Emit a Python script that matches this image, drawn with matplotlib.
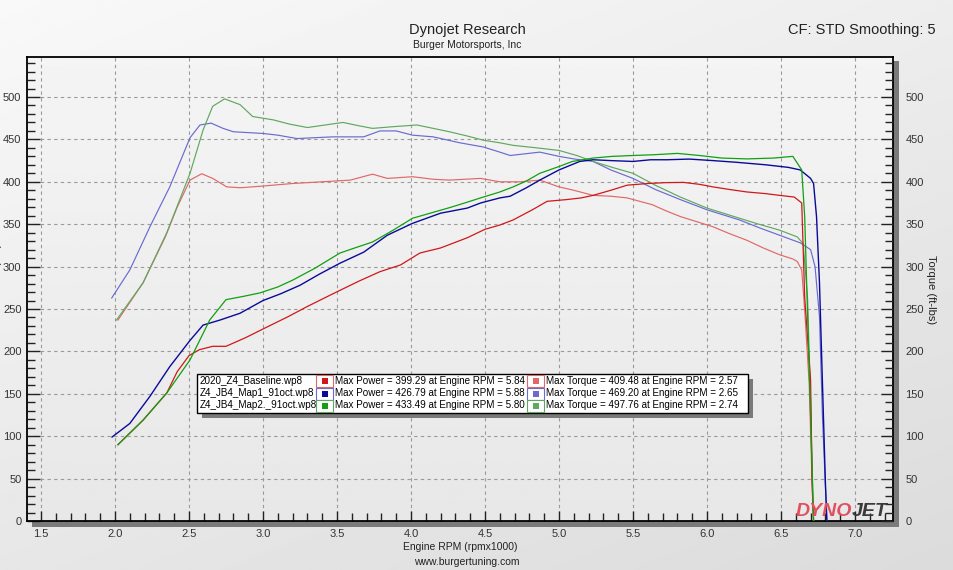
import numpy as np
import matplotlib
matplotlib.use('Agg')
import matplotlib.pyplot as plt
from matplotlib import font_manager
from matplotlib.patches import Rectangle
from matplotlib.ticker import MultipleLocator

# ---------------- data ----------------
base_pw_rpm = [2.02, 2.19, 2.35, 2.42, 2.50, 2.57, 2.66, 2.75, 2.88, 3.03, 3.17, 3.30, 3.45, 3.52, 3.65,
               3.79, 3.93, 4.06, 4.20, 4.38, 4.50, 4.60, 4.69, 4.82, 4.92, 5.05, 5.15, 5.23, 5.35, 5.46,
               5.60, 5.72, 5.84, 5.95, 6.04, 6.15, 6.27, 6.40, 6.49, 6.59, 6.64, 6.66, 6.70, 6.71, 6.72]
base_pw = [90, 119, 151, 176, 195, 202, 206, 206, 216, 229, 241, 253, 266, 272, 283,
           294, 302, 316, 322, 334, 344, 349, 355, 367, 377, 379, 381, 384, 390, 396,
           398, 399, 399.3, 397, 394, 391, 388, 386, 384, 382, 375, 264, 166, 45, 0]

base_tq_rpm = [2.02, 2.19, 2.34, 2.42, 2.507, 2.586, 2.66, 2.755, 2.85, 3.0, 3.2, 3.4, 3.59, 3.74, 3.84,
               4.01, 4.15, 4.26, 4.47, 4.60, 4.74, 4.87, 5.0, 5.1, 5.23, 5.35, 5.46, 5.63, 5.72, 5.82,
               5.93, 6.04, 6.15, 6.27, 6.38, 6.49, 6.58, 6.61, 6.64, 6.66, 6.69, 6.71, 6.72]
base_tq = [237, 281, 335, 370, 402, 409.5, 404, 394, 393, 395, 398, 400, 402, 409, 404,
           406, 403, 402, 404, 400, 400, 402, 394, 390, 384, 383, 381, 373, 366, 359,
           353, 347, 339, 331, 322, 314, 309, 306, 296, 249, 163, 45, 0]

map1_pw_rpm = [1.98, 2.10, 2.236, 2.37, 2.507, 2.595, 2.71, 2.845, 3.0, 3.12, 3.25, 3.38, 3.52, 3.68, 3.84,
               4.01, 4.20, 4.38, 4.47, 4.60, 4.67, 4.78, 4.87, 5.0, 5.14, 5.23, 5.35, 5.50, 5.62, 5.73,
               5.88, 6.04, 6.20, 6.40, 6.55, 6.63, 6.70, 6.72, 6.74, 6.76, 6.78, 6.80, 6.81]
map1_pw = [99, 115, 147, 182, 213, 231, 237, 245, 260, 268, 278, 291, 304, 317, 337,
           351, 363, 369, 375, 381, 383, 393, 402, 414, 424, 426, 425, 424, 426, 426,
           426.8, 425, 423, 420, 417, 414, 404, 398, 359, 281, 163, 45, 0]

map1_tq_rpm = [1.978, 2.10, 2.236, 2.37, 2.507, 2.574, 2.65, 2.73, 2.80, 2.90, 3.0, 3.1, 3.23, 3.35, 3.47,
               3.58, 3.68, 3.79, 3.9, 4.01, 4.15, 4.33, 4.49, 4.60, 4.67, 4.77, 4.87, 5.0, 5.1, 5.23,
               5.35, 5.50, 5.65, 5.82, 6.0, 6.22, 6.35, 6.49, 6.63, 6.70, 6.73, 6.76, 6.78, 6.81]
map1_tq = [263, 296, 347, 394, 452, 467, 469.2, 463, 459, 458, 457, 455, 451, 452, 453,
           453, 453, 460, 460, 455, 453, 446, 441, 435, 431, 433, 435, 430, 427, 424,
           414, 404, 391, 379, 367, 355, 346, 337, 328, 320, 300, 241, 123, 0]

map2_pw_rpm = [2.02, 2.19, 2.35, 2.507, 2.64, 2.75, 2.87, 2.98, 3.10, 3.20, 3.35, 3.52, 3.62, 3.74, 3.88,
               4.01, 4.15, 4.27, 4.38, 4.47, 4.60, 4.69, 4.78, 4.87, 5.0, 5.09, 5.23, 5.36, 5.50, 5.65,
               5.80, 5.95, 6.10, 6.27, 6.45, 6.58, 6.64, 6.66, 6.68, 6.70, 6.72]
map2_pw = [90, 119, 151, 190, 237, 261, 265, 269, 276, 284, 298, 316, 322, 329, 343,
           357, 364, 370, 376, 381, 388, 394, 401, 410, 418, 424, 428, 430, 431, 432,
           433.5, 431, 428, 427, 428, 430, 414, 359, 241, 123, 0]

map2_tq_rpm = [2.01, 2.19, 2.35, 2.507, 2.595, 2.66, 2.74, 2.845, 2.93, 3.07, 3.18, 3.30, 3.42, 3.54, 3.65,
               3.74, 3.88, 4.04, 4.15, 4.26, 4.38, 4.49, 4.60, 4.69, 4.85, 5.0, 5.12, 5.23, 5.36, 5.50,
               5.65, 5.82, 6.0, 6.22, 6.35, 6.49, 6.61, 6.65, 6.68, 6.70, 6.72]
map2_tq = [237, 281, 340, 410, 461, 489, 497.8, 491, 477, 473, 468, 464, 467, 470, 466,
           463, 465, 467, 463, 459, 454, 449, 446, 443, 440, 437, 431, 424, 417, 410,
           396, 382, 369, 357, 350, 343, 335, 327, 261, 140, 0]

run_names = ['2020_Z4_Baseline.wp8', 'Z4_JB4_Map1_91oct.wp8', 'Z4_JB4_Map2._91oct.wp8']
max_power = [399.29, 426.79, 433.49]
max_power_rpm = [5.84, 5.88, 5.80]
max_torque = [409.48, 469.20, 497.76]
max_torque_rpm = [2.57, 2.65, 2.74]

x_ticks = [1.5, 2.0, 2.5, 3.0, 3.5, 4.0, 4.5, 5.0, 5.5, 6.0, 6.5, 7.0]
y_ticks = [0, 50, 100, 150, 200, 250, 300, 350, 400, 450, 500]

power_colors = ['#d01818', '#0a0a9a', '#10a010']
torque_colors = ['#e06868', '#6a6ad0', '#5fa85f']

# ---------------- fonts ----------------
names = {f.name for f in font_manager.fontManager.ttflist}
NARROW = 'Liberation Sans Narrow' if 'Liberation Sans Narrow' in names else 'Liberation Sans'
plt.rcParams['font.family'] = [NARROW, 'DejaVu Sans']

W, H = 954, 570
fig = plt.figure(figsize=(9.54, 5.70), dpi=100)


def fx(x):
    return x / W


def fy(y):
    return 1 - y / H


# background gradient
bg = fig.add_axes([0, 0, 1, 1], zorder=-10)
gy = np.linspace(0, 1, 200)[:, None]
gx = np.linspace(0, 1, 300)[None, :]
img = 0.975 - 0.045 * gx - 0.07 * gy
bg.imshow(img, cmap='gray', vmin=0, vmax=1, extent=[0, 1, 0, 1], aspect='auto', origin='upper')
bg.set_axis_off()

L, R, T, B = 27, 893, 57, 521
# shadow of plot frame
fig.patches.append(Rectangle((fx(L + 5), fy(B + 6)), fx(R + 6) - fx(L + 5), fy(T + 4) - fy(B + 6),
                             transform=fig.transFigure, facecolor='#7a7a7a', edgecolor='none', zorder=-5))

ax = fig.add_axes([fx(L), fy(B), fx(R) - fx(L), fy(T) - fy(B)])
pg = np.linspace(0, 1, 200)[:, None] * np.ones((1, 10))
ax.imshow(0.958 - 0.05 * pg, cmap='gray', vmin=0, vmax=1, extent=[0, 1, 0, 1],
          transform=ax.transAxes, aspect='auto', origin='upper', zorder=0)

x0 = 1.5 - 14 / 148
x1 = 7.0 + 38 / 148
ymax = (B - T) / 0.848
ax.set_xlim(x0, x1)
ax.set_ylim(0, ymax)
ax.set_axisbelow(True)

for xt in x_ticks:
    ax.axvline(xt, color='#9a9a9a', lw=0.8, ls=(0, (3, 3)), zorder=0.5)
for yt in y_ticks:
    ax.axhline(yt, color='#9a9a9a', lw=0.8, ls=(0, (3, 3)), zorder=0.5)

ax.plot(base_tq_rpm, base_tq, color=torque_colors[0], lw=0.85, zorder=3)
ax.plot(map1_tq_rpm, map1_tq, color=torque_colors[1], lw=0.85, zorder=3)
ax.plot(map2_tq_rpm, map2_tq, color=torque_colors[2], lw=0.85, zorder=3)
ax.plot(base_pw_rpm, base_pw, color=power_colors[0], lw=0.9, zorder=3)
ax.plot(map1_pw_rpm, map1_pw, color=power_colors[1], lw=1.0, zorder=3)
ax.plot(map2_pw_rpm, map2_pw, color=power_colors[2], lw=0.9, zorder=3)

ax.xaxis.set_minor_locator(MultipleLocator(0.1))
ax.set_xticks(x_ticks)
ax.set_xticklabels([f'{v:.1f}' for v in x_ticks])
ax.set_yticks(y_ticks)
ax.yaxis.set_minor_locator(MultipleLocator(10))
ax.tick_params(axis='both', which='both', direction='in', colors='#222222', labelcolor='#333333',
               labelsize=8, width=1.0)
ax.tick_params(axis='x', which='major', length=7, pad=6)
ax.tick_params(axis='x', which='minor', length=6)
ax.tick_params(axis='y', which='major', length=9, pad=4)
ax.tick_params(axis='y', which='minor', length=6)
for s in ax.spines.values():
    s.set_color('black')
    s.set_linewidth(1.3)

ax2 = ax.twinx()
ax2.set_ylim(0, ymax)
ax2.set_yticks(y_ticks)
ax2.yaxis.set_minor_locator(MultipleLocator(10))
ax2.tick_params(axis='y', which='both', direction='in', colors='#222222', labelcolor='#333333',
                labelsize=8, width=1.0)
ax2.tick_params(axis='y', which='major', length=9, pad=9)
ax2.tick_params(axis='y', which='minor', length=6)
for s in ax2.spines.values():
    s.set_visible(False)

# texts
fig.text(fx(467), fy(30), 'Dynojet Research', ha='center', va='center', fontsize=10.5, color='#222222')
fig.text(fx(467), fy(45), 'Burger Motorsports, Inc', ha='center', va='center', fontsize=7.5, color='#222222')
fig.text(fx(936), fy(30), 'CF: STD Smoothing: 5', ha='right', va='center', fontsize=10.5, color='#222222')
fig.text(fx(460), fy(547), 'Engine RPM (rpmx1000)', ha='center', va='center', fontsize=7.5, color='#222222')
fig.text(fx(467), fy(562), 'www.burgertuning.com', ha='center', va='center', fontsize=7.5, color='#222222')
fig.text(fx(931), fy(290), 'Torque (ft-lbs)', ha='center', va='center', rotation=-90, fontsize=8,
         color='#222222')
fig.text(fx(-3), fy(272), 'Power (HP)', ha='center', va='center', rotation=90, fontsize=8, color='#222222')

# legend box
bx0, bx1, by0, by1 = 197, 748, 374, 413
fig.patches.append(Rectangle((fx(bx0 + 5), fy(by1 + 5)), fx(bx1 + 5) - fx(bx0 + 5), fy(by0 + 5) - fy(by1 + 5),
                             transform=fig.transFigure, facecolor='#7a7a7a', edgecolor='none', zorder=5))
fig.patches.append(Rectangle((fx(bx0), fy(by1)), fx(bx1) - fx(bx0), fy(by0) - fy(by1),
                             transform=fig.transFigure, facecolor='white', edgecolor='black', lw=1.0,
                             zorder=6))
rows = [381, 393.5, 405.5]
for i, yy in enumerate(rows):
    fig.text(fx(200), fy(yy), run_names[i], ha='left', va='center', fontsize=7.1, color='black', zorder=7)
    for sx0, col in [(316, power_colors[i]), (527, torque_colors[i])]:
        fig.patches.append(Rectangle((fx(sx0), fy(yy + 6)), fx(17) - fx(0), fy(0) - fy(12),
                                     transform=fig.transFigure, facecolor='white', edgecolor=torque_colors[i],
                                     lw=0.8, zorder=7))
        fig.patches.append(Rectangle((fx(sx0 + 5.5), fy(yy + 3)), fx(6) - fx(0), fy(0) - fy(6),
                                     transform=fig.transFigure, facecolor=col, edgecolor='none', zorder=8))
    fig.text(fx(335), fy(yy), f'Max Power = {max_power[i]:.2f} at Engine RPM = {max_power_rpm[i]:.2f}',
             ha='left', va='center', fontsize=7.1, color='black', zorder=8)
    fig.text(fx(546), fy(yy), f'Max Torque = {max_torque[i]:.2f} at Engine RPM = {max_torque_rpm[i]:.2f}',
             ha='left', va='center', fontsize=7.1, color='black', zorder=8)

# DYNOJET logo
fig.text(fx(852), fy(511), 'DYNO', ha='right', va='center', fontsize=14, fontweight='bold', style='italic',
         color='#e0505f', family='Liberation Sans', zorder=9)
fig.text(fx(852), fy(511), 'JET', ha='left', va='center', fontsize=14, fontweight='bold', style='italic',
         color='#3a3a3a', family='Liberation Sans', zorder=9)

fig.savefig('out.png', dpi=100)
